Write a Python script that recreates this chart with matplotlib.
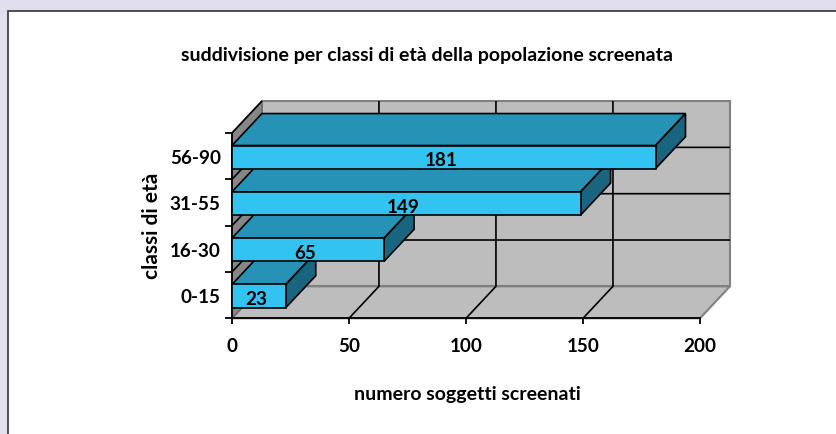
import matplotlib

matplotlib.use("Agg")
import matplotlib.pyplot as plt
from matplotlib.patches import Polygon, Rectangle

plt.rcParams["font.family"] = ["Lato", "DejaVu Sans"]
plt.rcParams["font.weight"] = "bold"

categories = ["0-15", "16-30", "31-55", "56-90"]
values = [23, 65, 149, 181]
x_ticks = [0, 50, 100, 150, 200]

title = "suddivisione per classi di età della popolazione screenata"
x_label = "numero soggetti screenati"
y_label = "classi di età"

W, H = 836, 435
# depth of the fake 3d box, in data units
DX = 12.8
DY = 0.69
BAR_H = 0.5

fig = plt.figure(figsize=(W / 100, H / 100), dpi=100, facecolor="#e1dfee")
fig.patches.append(
    Rectangle(
        (8 / W, -0.01),
        1.01,
        1.01 - 12 / H,
        transform=fig.transFigure,
        facecolor="white",
        edgecolor="#333333",
        linewidth=1.2,
        zorder=-1,
    )
)

ax = fig.add_axes([232 / W, (H - 319.3) / H, 468 / W, 185.3 / H])
ax.patch.set_visible(False)
ax.set_xlim(0, 200)
ax.set_ylim(0, len(categories))

n = len(categories)


def poly(pts, fc, ec="black", lw=1.2, z=1):
    ax.add_patch(
        Polygon(pts, closed=True, facecolor=fc, edgecolor=ec, linewidth=lw, zorder=z, clip_on=False)
    )


def line(xs, ys, color="black", lw=1.2, z=2):
    ax.plot(xs, ys, color=color, linewidth=lw, zorder=z, clip_on=False, solid_capstyle="butt")


xmax = x_ticks[-1]
# walls and floor
poly([(DX, DY), (xmax + DX, DY), (xmax + DX, n + DY), (DX, n + DY)], "#bdbdbd", "#808080", 1.5)
poly([(0, 0), (xmax, 0), (xmax + DX, DY), (DX, DY)], "#bdbdbd", "#808080", 1.5)
poly([(0, 0), (DX, DY), (DX, n + DY), (0, n)], "#868686", "#6e6e6e", 1.2)

# grid
for v in x_ticks[1:-1]:
    line([v, v + DX, v + DX], [0, DY, n + DY])
for i in range(1, n):
    line([0, DX, xmax + DX], [i, i + DY, i + DY])
line([0, DX], [n, n + DY])

# bars, lowest first so the upper ones sit in front
for i, (cat, val) in enumerate(zip(categories, values)):
    y0 = i + 0.5 - BAR_H / 2 - 0.02
    y1 = y0 + BAR_H
    z = 3 + i
    poly([(0, y1), (val, y1), (val + DX, y1 + DY), (DX, y1 + DY)], "#2692b6", z=z)
    poly([(val, y0), (val + DX, y0 + DY), (val + DX, y1 + DY), (val, y1)], "#19657f", z=z)
    poly([(0, y0), (val, y0), (val, y1), (0, y1)], "#33c3f1", z=z)
    ax.annotate(
        str(val),
        (val / 2, (y0 + y1) / 2),
        xytext=(-2, -2),
        textcoords="offset points",
        ha="center",
        va="center",
        fontsize=13.6,
        fontweight="bold",
        color="black",
        zorder=10,
    )

# axes
for s in ["top", "right", "left"]:
    ax.spines[s].set_visible(False)
ax.spines["bottom"].set_linewidth(1.3)
ax.spines["bottom"].set_zorder(2.5)

ax.set_xticks(x_ticks)
ax.set_xticklabels(x_ticks, fontsize=13.6, fontweight="bold")
ax.tick_params(axis="x", length=4.5, width=1.3, pad=9)
ax.set_yticks(range(n + 1))
ax.set_yticklabels([])
ax.tick_params(axis="y", which="major", length=5, width=1.3)
ax.set_yticks([i + 0.5 for i in range(n)], minor=True)
ax.set_yticklabels(categories, minor=True, fontsize=13.6, fontweight="bold")
ax.tick_params(axis="y", which="minor", length=0, pad=8)
line([0, 0], [0, n], lw=1.3, z=2.5)

fig.text(427 / W, 1 - 55 / H, title, ha="center", va="center", fontsize=14, fontweight="bold")
fig.text(467 / W, 1 - 395 / H, x_label, ha="center", va="center", fontsize=14, fontweight="bold")
fig.text(152 / W, 1 - 226 / H, y_label, ha="center", va="center", rotation=90, fontsize=15, fontweight="bold")

fig.savefig("out.png", dpi=100, facecolor=fig.get_facecolor())
plt.close(fig)
